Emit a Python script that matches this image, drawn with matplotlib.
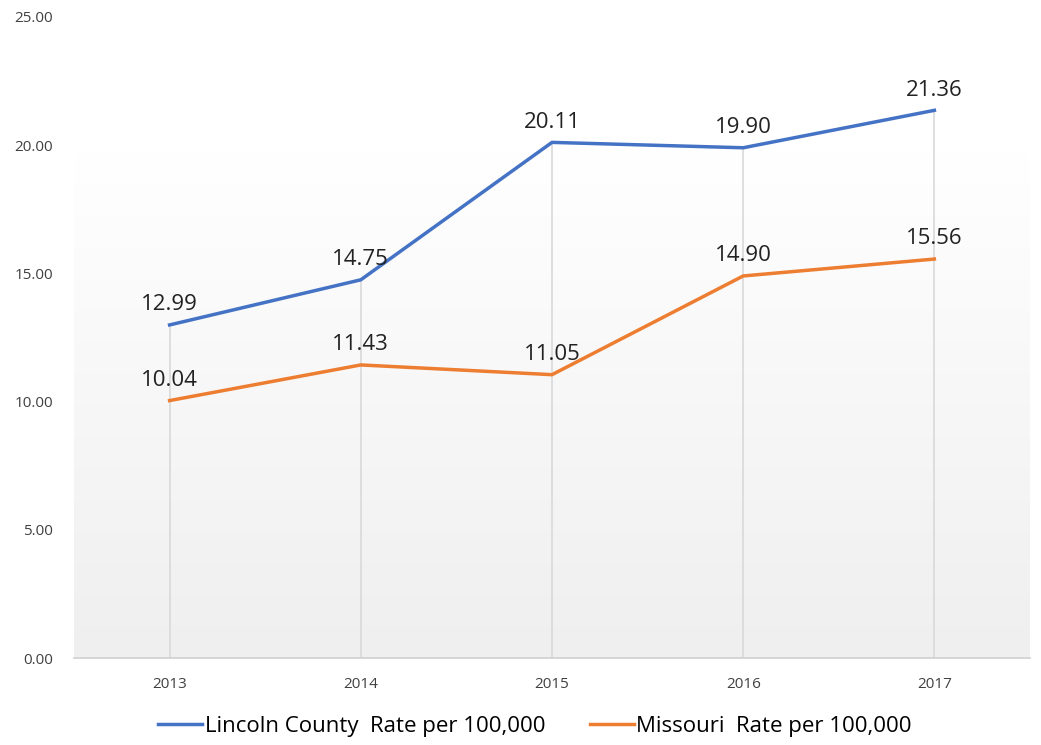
import numpy as np
import matplotlib.pyplot as plt
from matplotlib.colors import LinearSegmentedColormap

years = ['2013', '2014', '2015', '2016', '2017']
lincoln = [12.99, 14.75, 20.11, 19.90, 21.36]
missouri = [10.04, 11.43, 11.05, 14.90, 15.56]

plt.rcParams['font.family'] = ['Open Sans', 'DejaVu Sans']

fig = plt.figure(figsize=(10.41, 7.45), dpi=100)
ax = fig.add_axes([74 / 1041, 87 / 745, 956 / 1041, 641 / 745])

x = np.arange(len(years))
ax.set_xlim(-0.5, len(years) - 0.5)
ax.set_ylim(0, 25)

# soft grey gradient in the lower part of the plot area
bg = LinearSegmentedColormap.from_list('bg', ['#ffffff', '#efefef'])
grad = np.linspace(0, 1, 256).reshape(-1, 1)
ax.imshow(grad, cmap=bg, aspect='auto',
          extent=(-0.5, len(years) - 0.5, 0, 19.7), origin='upper', zorder=0)

# drop lines
tops = np.maximum(lincoln, missouri)
ax.vlines(x, 0, tops, color='#d9d9d9', lw=1.2, zorder=1)

ax.plot(x, lincoln, color='#4472C4', lw=2.5, label='Lincoln County  Rate per 100,000', zorder=3)
ax.plot(x, missouri, color='#ED7D31', lw=2.5, label='Missouri  Rate per 100,000', zorder=3)

for xi, v in zip(x, lincoln):
    ax.annotate(f'{v:.2f}', (xi, v), xytext=(0, 7), textcoords='offset points',
                ha='center', va='bottom', fontsize=16, color='#222222')
for xi, v in zip(x, missouri):
    ax.annotate(f'{v:.2f}', (xi, v), xytext=(0, 7), textcoords='offset points',
                ha='center', va='bottom', fontsize=16, color='#222222')

ax.set_xticks(x)
ax.set_xticklabels(years)
ax.set_yticks(np.arange(0, 26, 5))
ax.set_yticklabels([f'{t:.2f}' for t in np.arange(0, 26, 5)])
ax.tick_params(axis='both', length=0, labelsize=11, colors='#404040')
ax.tick_params(axis='x', pad=14)
ax.tick_params(axis='y', pad=15)

for s in ['left', 'right', 'top']:
    ax.spines[s].set_visible(False)
ax.spines['bottom'].set_color('#d0d0d0')
ax.spines['bottom'].set_linewidth(1.2)

ax.legend(loc='center', bbox_to_anchor=(0.482, -0.107), ncol=2, frameon=False,
          fontsize=16, handlelength=2.0, handletextpad=0.1, columnspacing=2.0)

fig.savefig('out.png', dpi=100)
